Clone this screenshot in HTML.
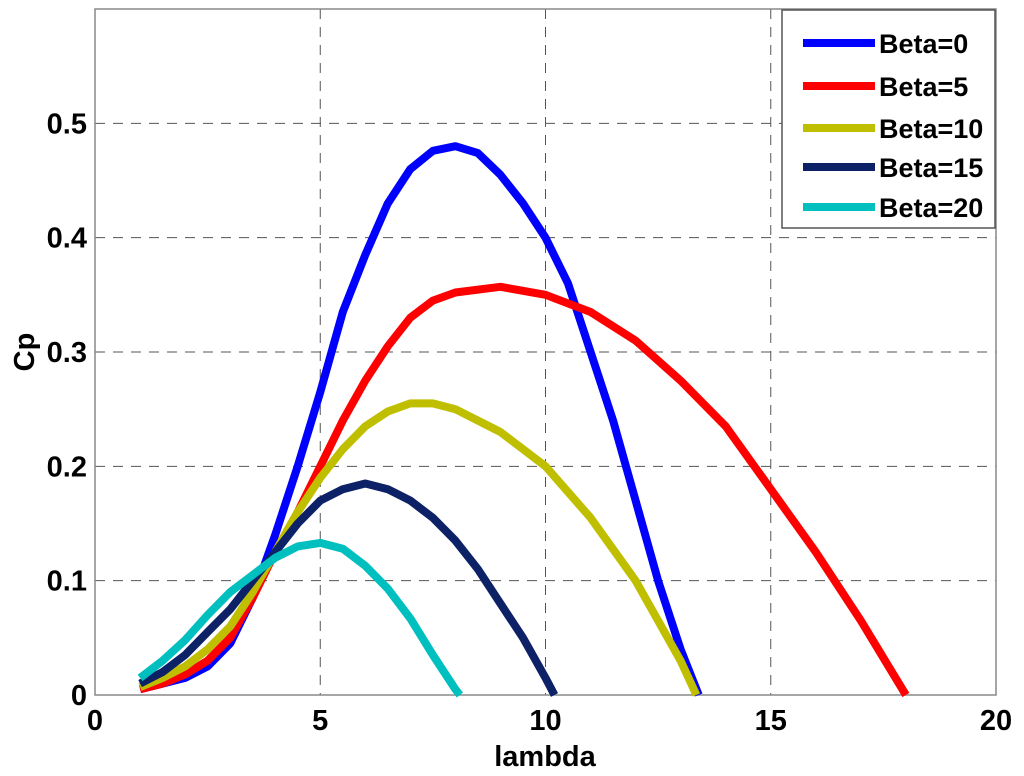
<!DOCTYPE html>
<html><head><meta charset="utf-8"><style>
html,body{margin:0;padding:0;background:#fff;}
svg{display:block;font-family:"Liberation Sans",Arial,sans-serif;font-weight:bold;}
</style></head><body>
<svg id="chart" width="1024" height="776">
<rect x="0" y="0" width="1024" height="776" fill="#fff"/>
<g id="grid"></g><g id="axes"></g><g id="series"></g><g id="legend"></g>
</svg>
<script>
const categories = ["Beta=0","Beta=5","Beta=10","Beta=15","Beta=20"];
const colors = ["#0000ff","#ff0000","#bfbf00","#0c2166","#00bfbf"];
const lam0 = [1,1.5,2,2.5,3,3.5,4,4.5,5,5.5,6,6.5,7,7.5,8,8.5,9,9.5,10,10.5,11,11.5,12,12.5,13,13.4];
const cp0  = [0.005,0.01,0.015,0.025,0.045,0.085,0.14,0.2,0.265,0.335,0.385,0.43,0.46,0.476,0.48,0.474,0.455,0.43,0.4,0.36,0.3,0.24,0.17,0.1,0.04,0];
const lam5 = [1,1.5,2,2.5,3,3.5,4,4.5,5,5.5,6,6.5,7,7.5,8,9,10,11,12,13,14,15,16,17,18];
const cp5  = [0.005,0.01,0.018,0.03,0.05,0.085,0.125,0.16,0.2,0.24,0.275,0.305,0.33,0.345,0.352,0.357,0.35,0.335,0.31,0.275,0.235,0.18,0.125,0.065,0];
const lam10 = [1,1.5,2,2.5,3,3.5,4,4.5,5,5.5,6,6.5,7,7.5,8,9,10,11,12,12.5,13,13.35];
const cp10  = [0.007,0.015,0.025,0.04,0.06,0.09,0.125,0.16,0.19,0.215,0.235,0.248,0.255,0.255,0.25,0.23,0.2,0.155,0.1,0.065,0.03,0];
const lam15 = [1,1.5,2,2.5,3,3.5,4,4.5,5,5.5,6,6.5,7,7.5,8,8.5,9,9.5,10,10.2];
const cp15  = [0.01,0.02,0.035,0.055,0.075,0.1,0.125,0.15,0.17,0.18,0.185,0.18,0.17,0.155,0.135,0.11,0.08,0.05,0.015,0];
const lam20 = [1,1.5,2,2.5,3,3.5,4,4.5,5,5.5,6,6.5,7,7.5,8,8.1];
const cp20  = [0.015,0.03,0.048,0.07,0.09,0.105,0.12,0.13,0.133,0.128,0.113,0.093,0.067,0.035,0.005,0];
const xTicks = [0,5,10,15,20];
const yTicks = [0,0.1,0.2,0.3,0.4,0.5];
const yTickLabels = ["0","0.1","0.2","0.3","0.4","0.5"];

const L=95,R=996,T=9,B=695;
const xs=v=>L+(v-0)/(20-0)*(R-L);
const ys=v=>B-(v-0)/(0.6-0)*(B-T);
const NS="http://www.w3.org/2000/svg";
function mk(tag,parent,attrs){const e=document.createElementNS(NS,tag);for(const k in attrs)e.setAttribute(k,attrs[k]);parent.appendChild(e);return e;}
const grid=document.getElementById('grid'),axes=document.getElementById('axes'),ser=document.getElementById('series'),leg=document.getElementById('legend');
xTicks.forEach(t=>{
  if(t>0&&t<20){const g=mk('line',grid,{x1:xs(t),x2:xs(t),y1:T,y2:B,stroke:'#555','stroke-width':1,'stroke-dasharray':'10 8'});
  
  }
  const tx=mk('text',axes,{x:xs(t),y:B+35,'text-anchor':'middle','font-size':29,fill:'#000'});
  tx.textContent=t;
  
  
});
yTicks.forEach((t,i)=>{
  if(t>0){const g=mk('line',grid,{x1:L,x2:R,y1:ys(t),y2:ys(t),stroke:'#555','stroke-width':1,'stroke-dasharray':'10 8'});
  
  }
  const tx=mk('text',axes,{x:L-8,y:ys(t)+10,'text-anchor':'end','font-size':29,fill:'#000'});
  tx.textContent=yTickLabels[i];
  
  
});
const fr=mk('rect',axes,{x:L,y:T,width:R-L,height:B-T,fill:'none',stroke:'#888','stroke-width':1.5});


const xl=mk('text',axes,{x:545,y:766,'text-anchor':'middle','font-size':29,fill:'#000'});xl.textContent='lambda';


const yl=mk('text',axes,{x:0,y:0,'text-anchor':'middle','font-size':29,fill:'#000',transform:'translate(34,352) rotate(-90)'});yl.textContent='Cp';


const data=[[lam0,cp0],[lam5,cp5],[lam10,cp10],[lam15,cp15],[lam20,cp20]];
data.forEach((d,i)=>{
  const pts=d[0].map((x,j)=>xs(x).toFixed(1)+','+ys(d[1][j]).toFixed(1)).join(' ');
  const p=mk('polyline',ser,{points:pts,fill:'none',stroke:colors[i],'stroke-width':8,'stroke-linejoin':'round'});
  
  
});
const lb=mk('rect',leg,{x:782,y:10,width:213,height:218,fill:'#fff',stroke:'#555','stroke-width':1.5});


const ly=[43,86,128,167,207];
categories.forEach((c,i)=>{
  const l=mk('line',leg,{x1:803,x2:875,y1:ly[i],y2:ly[i],stroke:colors[i],'stroke-width':8});
  
  
  const t=mk('text',leg,{x:879,y:ly[i]+10,'font-size':27,fill:'#000'});t.textContent=c;
  
  
});
</script>
</body></html>
